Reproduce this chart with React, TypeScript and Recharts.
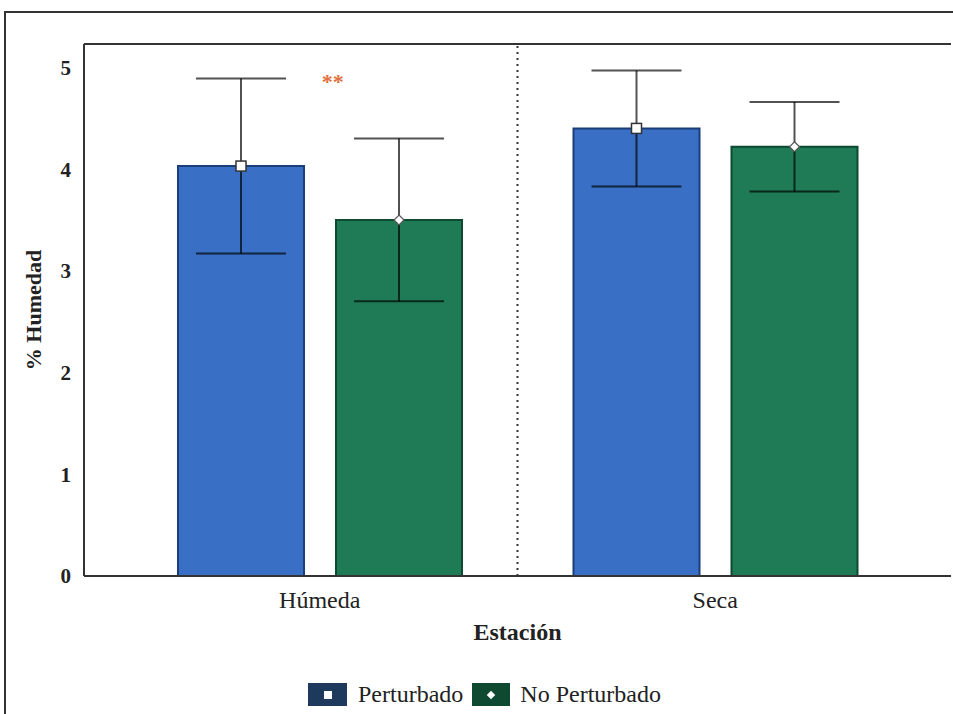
import React from 'react';
import {
  BarChart,
  Bar,
  XAxis,
  YAxis,
  ErrorBar,
  LabelList,
  Legend,
  ReferenceLine,
  ReferenceDot,
} from 'recharts';

const categories = ['Húmeda', 'Seca'];
const perturbado = [4.03, 4.4];
const perturbadoErr = [0.86, 0.57];
const noPerturbado = [3.5, 4.22];
const noPerturbadoErr = [0.8, 0.44];
const yTicks = [0, 1, 2, 3, 4, 5];

const data = categories.map((estacion, i) => ({
  estacion,
  perturbado: perturbado[i],
  perturbadoErr: perturbadoErr[i],
  noPerturbado: noPerturbado[i],
  noPerturbadoErr: noPerturbadoErr[i],
}));

const FONT = "'Liberation Serif', 'Times New Roman', Times, 'DejaVu Serif', serif";
const AXIS = '#333';
const BLUE = '#3a6fc6';
const BLUE_DARK = '#1b3d78';
const GREEN = '#1f7a56';
const GREEN_DARK = '#0d4a30';
const ERR = 'rgba(0,0,0,0.68)';
const Y_MAX = 5.23;

const SquareMarker = (props: any) => {
  const { x, y, width } = props;
  const cx = x + width / 2;
  return <rect x={cx - 5} y={y - 5} width={10} height={10} fill="#fff" stroke="#333" strokeWidth={1.5} />;
};

const DiamondMarker = (props: any) => {
  const { x, y, width } = props;
  const cx = x + width / 2;
  const r = 5;
  return (
    <path
      d={`M${cx},${y - r} L${cx + r},${y} L${cx},${y + r} L${cx - r},${y} Z`}
      fill="#fff"
      stroke="#555"
      strokeWidth={1.2}
    />
  );
};

const Stars = (props: any) => {
  const { viewBox } = props;
  const cx = viewBox.x + viewBox.width / 2 + 13;
  const cy = viewBox.y + viewBox.height / 2;
  return (
    <text x={cx} y={cy + 14} textAnchor="middle" fill="#e07040" fontSize={22} fontWeight="bold" style={{ fontFamily: FONT }}>
      **
    </text>
  );
};

const renderLegend = () => (
  <div style={{ display: 'flex', alignItems: 'center', fontFamily: FONT, fontSize: 24, color: '#222' }}>
    <span style={{ width: 39, height: 23, background: '#1d3a5c', display: 'inline-flex', alignItems: 'center', justifyContent: 'center' }}>
      <span style={{ width: 8, height: 8, background: '#fff' }} />
    </span>
    <span style={{ marginLeft: 11, marginRight: 9 }}>Perturbado</span>
    <span style={{ width: 38, height: 23, background: '#0e4a32', display: 'inline-flex', alignItems: 'center', justifyContent: 'center' }}>
      <span style={{ width: 6, height: 6, background: '#fff', transform: 'rotate(45deg)' }} />
    </span>
    <span style={{ marginLeft: 10 }}>No Perturbado</span>
  </div>
);

export default function App() {
  return (
    <div style={{ position: 'absolute', left: 0, top: 0, width: 953, height: 714, overflow: 'hidden', background: '#fff', fontFamily: FONT }}>
      <div
        style={{
          position: 'absolute',
          left: 4,
          top: 11,
          width: 1000,
          height: 800,
          borderTop: `2px solid ${AXIS}`,
          borderLeft: `2px solid ${AXIS}`,
        }}
      />
      <div style={{ position: 'absolute', left: 0, top: 0 }}>
        <BarChart
          width={953}
          height={714}
          data={data}
          margin={{ top: 44, right: 2, left: 0, bottom: 0 }}
          barGap={32}
          barSize={126}
          style={{ fontFamily: FONT }}
        >
          <XAxis
            dataKey="estacion"
            padding={{ left: 38, right: 38 }}
            height={138}
            tickLine={false}
            tickMargin={9}
            tick={{ fontSize: 24, fill: '#222', style: { fontFamily: FONT } }}
            axisLine={{ stroke: AXIS, strokeWidth: 2 }}
            label={{
              value: 'Estación',
              position: 'insideTop',
              offset: 47,
              fontSize: 24,
              fontWeight: 'bold',
              fill: '#222',
              style: { fontFamily: FONT },
            }}
          />
          <YAxis
            domain={[0, Y_MAX]}
            ticks={yTicks}
            allowDataOverflow
            width={84}
            tickLine={false}
            tickSize={0}
            tickMargin={13}
            tick={{ fontSize: 21, fontWeight: 'bold', fill: '#222', style: { fontFamily: FONT } }}
            axisLine={{ stroke: AXIS, strokeWidth: 2 }}
            label={{
              value: '% Humedad',
              angle: -90,
              position: 'insideLeft',
              offset: 33,
              style: { textAnchor: 'middle', fontFamily: FONT },
              fontSize: 22,
              fontWeight: 'bold',
              fill: '#222',
            }}
          />
          <YAxis
            yAxisId="right"
            orientation="right"
            domain={[0, 1]}
            width={0}
            tick={false}
            tickLine={false}
            axisLine={{ stroke: AXIS, strokeWidth: 2 }}
          />
          <ReferenceLine y={Y_MAX} stroke={AXIS} strokeWidth={2} />
          <ReferenceLine x="Seca" position="start" stroke={AXIS} strokeWidth={2} strokeDasharray="2 4" />
          <Bar dataKey="perturbado" fill={BLUE} stroke={BLUE_DARK} strokeWidth={2} isAnimationActive={false}>
            <ErrorBar dataKey="perturbadoErr" width={45} strokeWidth={2} stroke={ERR} />
            <LabelList dataKey="perturbado" content={SquareMarker} />
          </Bar>
          <Bar dataKey="noPerturbado" fill={GREEN} stroke={GREEN_DARK} strokeWidth={2} isAnimationActive={false}>
            <ErrorBar dataKey="noPerturbadoErr" width={45} strokeWidth={2} stroke={ERR} />
            <LabelList dataKey="noPerturbado" content={DiamondMarker} />
          </Bar>
          <ReferenceDot x="Húmeda" y={4.93} r={1} fillOpacity={0} strokeOpacity={0} label={<Stars />} />
          <Legend
            layout="horizontal"
            verticalAlign="middle"
            align="center"
            content={renderLegend}
            wrapperStyle={{ top: 681, left: 308, width: 'auto', height: 'auto' }}
          />
        </BarChart>
      </div>
    </div>
  );
}
